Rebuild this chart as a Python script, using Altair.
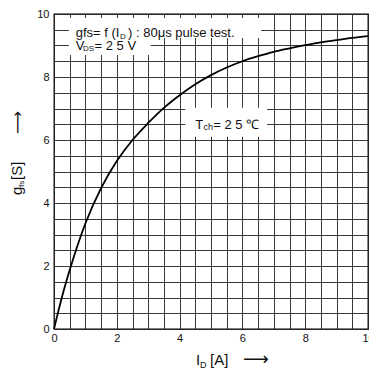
import altair as alt
import pandas as pd

# curve data
id_a = [0, 0.25, 0.5, 1, 1.5, 2, 2.5, 3, 3.5, 4, 4.5, 5, 5.5, 6, 6.5, 7, 7.5, 8, 8.5, 9, 9.5, 10]
gfs_s = [0, 1.0, 1.87, 3.35, 4.47, 5.33, 6.0, 6.54, 7.02, 7.42, 7.77, 8.06, 8.3, 8.5, 8.66, 8.8, 8.91, 9.01, 9.1, 9.17, 9.24, 9.3]

grid_vals = [i * 0.5 for i in range(21)]

# annotation white boxes (data units)
box_x1 = [0.47, 0.47, 4.18]
box_x2 = [6.6, 3.08, 6.79]
box_y1 = [9.24, 8.7, 6.1]
box_y2 = [9.87, 9.24, 7.02]

# annotation text segments
ann_text = ["gfs= f (I", "D", ") : 80μs pulse test.", "V", "DS", "= 2 5 V", "T", "ch", "= 2 5 ℃"]
ann_x = [0.69, 2.1, 2.36, 0.69, 0.92, 1.29, 4.5, 4.76, 5.07]
ann_y = [9.28, 9.22, 9.28, 8.87, 8.84, 8.87, 6.35, 6.33, 6.35]
ann_fs = [13, 8, 13, 13, 8, 13, 13, 9, 13]

FONT = "Liberation Sans"

curve = pd.DataFrame({"x": id_a, "y": gfs_s})
boxes = pd.DataFrame({"x": box_x1, "x2": box_x2, "y": box_y1, "y2": box_y2})
ann = pd.DataFrame({"t": ann_text, "x": ann_x, "y": ann_y, "fs": ann_fs})

xs = alt.Scale(domain=[0, 10], nice=False, zero=False)
ys = alt.Scale(domain=[0, 10], nice=False, zero=False)

label_expr = "datum.value % 2 == 0 ? format(datum.value, 'd') : ''"
xa = alt.Axis(values=grid_vals, labelExpr=label_expr, title=None, labelFlush=False, labelPadding=3)
ya = alt.Axis(values=grid_vals, labelExpr=label_expr, title=None, labelPadding=5)

line = alt.Chart(curve).mark_line(interpolate="monotone", color="black", strokeWidth=1.8).encode(
    x=alt.X("x:Q", scale=xs, axis=xa),
    y=alt.Y("y:Q", scale=ys, axis=ya),
)

rects = alt.Chart(boxes).mark_rect(color="white").encode(
    x=alt.X("x:Q", scale=xs, axis=xa), x2="x2:Q",
    y=alt.Y("y:Q", scale=ys, axis=ya), y2="y2:Q",
)

texts = alt.Chart(ann).mark_text(align="left", baseline="alphabetic", font=FONT, color="#111").encode(
    x=alt.X("x:Q", scale=xs, axis=xa),
    y=alt.Y("y:Q", scale=ys, axis=ya),
    text="t:N",
    size=alt.Size("fs:Q", scale=None),
)

def label(txt, x, y, fs, angle=0, font=FONT):
    kw = dict(align="left", baseline="alphabetic", font=font, fontSize=fs, color="#111", text=txt)
    if angle:
        kw["angle"] = angle
    return alt.Chart(curve).transform_filter("datum.x == 0").mark_text(**kw).encode(
        x=alt.value(x), y=alt.value(y))

TY = 351
titles = [
    label("I", 142, TY, 15),
    label("D", 146, TY + 3, 9),
    label("[A]", 156, TY, 15),
    label("⟶", 189, TY, 18, font="DejaVu Sans"),
    label("g", -32, 181, 15, angle=270),
    label("fs", -30, 173, 8, angle=270),
    label("[S]", -32, 166, 15, angle=270),
    label("⟶", -31, 120, 16, angle=270, font="DejaVu Sans"),
]

chart = alt.layer(rects, line, texts, *titles).properties(
    width=314, height=315,
    padding={"left": 46, "top": 6, "right": 1, "bottom": 41},
    autosize=alt.AutoSizeParams(type="none"),
    background="white",
).configure_view(stroke="#000", strokeWidth=1.3).configure_axis(
    grid=True, gridColor="#222", gridWidth=0.9, gridOpacity=1,
    ticks=False, domain=False,
    labelFont=FONT, labelFontSize=11, labelColor="#111",
)

chart.save("out.html", embed_options={"renderer": "svg", "actions": False})
